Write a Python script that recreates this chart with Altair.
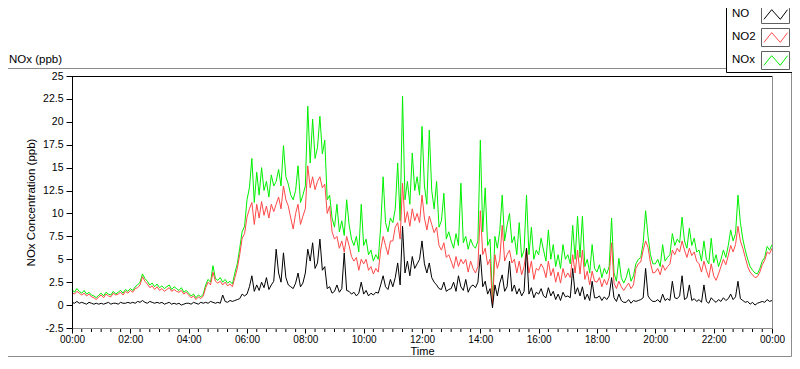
import altair as alt
import pandas as pd

# ---- data (5-minute samples, 00:00 .. 24:00) ----
NOX_VALUES = [
    1.7, 1.4, 1.8, 1.5, 1.3, 1.6, 1.2, 1.4, 1.1, 1.0, 0.8, 1.1,
    1.3, 1.0, 1.4, 1.2, 1.1, 1.5, 1.2, 1.4, 1.6, 1.3, 1.7, 1.5,
    1.8, 1.6, 2.0, 2.2, 2.5, 3.4, 2.9, 2.6, 2.2, 2.4, 2.0, 2.3,
    1.9, 2.1, 1.8, 2.0, 2.2, 1.7, 2.0, 1.8, 1.6, 1.9, 1.4, 1.6,
    1.3, 1.0, 1.2, 0.8, 1.1, 0.9, 1.2, 2.2, 2.8, 2.5, 4.3, 2.9,
    2.7, 3.0, 2.5, 2.8, 2.4, 2.6, 2.3, 3.5, 4.5, 6.2, 8.0, 8.6,
    11.5, 12.8, 16.0, 11.2, 14.5, 12.0, 15.0, 12.5, 13.5, 11.8, 14.2, 13.0,
    13.5, 14.8, 13.0, 17.4, 14.0, 13.2, 12.0, 11.5, 12.5, 15.2, 11.2, 12.0,
    13.0, 21.7, 15.5, 20.3, 16.0, 17.2, 20.6, 16.5, 18.0, 11.5, 12.0, 9.5,
    8.5, 11.0, 8.0, 9.2, 7.6, 11.5, 8.8, 7.2, 6.5, 7.5, 5.8, 11.0,
    6.5, 7.2, 5.5, 6.0, 4.8, 5.5, 5.0, 8.5, 14.0, 9.0, 8.0, 9.5,
    9.0, 10.5, 15.5, 9.2, 22.8, 11.5, 13.5, 11.0, 16.6, 12.5, 14.0, 12.0,
    19.5, 13.0, 11.0, 19.1, 12.5, 10.5, 13.5, 8.5, 9.2, 12.2, 7.2, 8.0,
    7.0, 6.2, 7.8, 6.5, 13.3, 6.8, 7.5, 6.1, 7.2, 6.5, 6.2, 7.0,
    18.0, 8.0, 12.8, 6.5, 7.2, 0.3, 7.5, 6.2, 8.1, 12.0, 7.0, 8.7,
    10.0, 6.8, 7.5, 5.5, 9.0, 5.2, 6.0, 12.0, 5.5, 8.5, 5.0, 6.0,
    5.5, 7.3, 6.0, 4.8, 8.2, 5.0, 6.6, 4.2, 5.5, 4.0, 6.6, 5.0,
    5.5, 4.5, 8.7, 5.0, 9.7, 5.2, 9.7, 4.2, 5.0, 3.5, 6.6, 4.0,
    3.6, 4.4, 3.0, 4.0, 3.4, 4.2, 9.5, 3.5, 2.6, 5.1, 3.0, 2.4,
    3.0, 4.0, 2.6, 3.2, 4.5, 5.0, 5.2, 6.8, 10.3, 7.5, 5.5, 4.5,
    4.5, 5.0, 4.2, 6.6, 4.8, 5.2, 5.5, 7.8, 6.5, 7.2, 6.8, 9.6,
    7.0, 6.2, 8.4, 6.5, 7.3, 5.8, 6.0, 4.8, 7.0, 5.0, 4.5, 7.3,
    4.6, 5.5, 4.2, 5.0, 6.0, 5.2, 6.5, 8.2, 7.0, 7.8, 12.0, 9.0,
    7.2, 6.0, 5.0, 4.2, 3.8, 3.5, 3.4, 4.0, 4.8, 5.2, 6.4, 6.0,
    6.6,
]

NO2_VALUES = [
    1.4, 1.2, 1.5, 1.3, 1.1, 1.3, 1.0, 1.2, 0.9, 0.8, 0.6, 0.9,
    1.1, 0.8, 1.2, 1.0, 0.9, 1.3, 1.1, 1.2, 1.4, 1.1, 1.5, 1.3,
    1.6, 1.4, 1.8, 1.9, 2.2, 3.1, 2.6, 2.3, 1.9, 2.1, 1.7, 2.0,
    1.6, 1.8, 1.5, 1.7, 1.9, 1.5, 1.7, 1.5, 1.4, 1.6, 1.2, 1.4,
    1.1, 0.8, 1.0, 0.6, 0.9, 0.7, 1.0, 1.9, 2.5, 2.2, 3.6, 2.6,
    2.4, 2.6, 2.2, 2.5, 2.1, 2.3, 2.0, 3.0, 4.0, 5.5, 7.3, 7.8,
    9.6, 10.5, 11.2, 8.8, 11.0, 9.5, 11.3, 9.8, 10.8, 9.5, 11.0, 10.2,
    11.0, 11.8, 10.5, 13.0, 11.5, 10.8, 9.5, 8.3, 10.0, 11.0, 8.8, 9.7,
    10.5, 15.2, 12.8, 14.0, 12.6, 13.5, 14.0, 12.8, 13.2, 10.0, 10.8, 8.0,
    7.2, 7.5, 6.2, 7.0, 5.8, 7.5, 6.5, 5.3, 4.8, 5.2, 3.8, 5.0,
    4.5, 5.0, 3.8, 4.2, 3.4, 4.0, 3.6, 6.0, 7.5, 6.5, 5.5, 7.0,
    7.0, 8.5, 9.0, 7.2, 13.3, 9.0, 10.2, 8.6, 10.5, 9.2, 10.0, 9.0,
    12.0, 9.5, 8.2, 9.7, 8.8, 7.9, 8.5, 6.5, 6.0, 6.8, 5.2, 5.5,
    4.8, 4.0, 5.3, 4.2, 5.0, 4.5, 5.0, 3.6, 4.8, 4.0, 3.5, 4.2,
    10.3, 5.5, 6.2, 4.4, 5.0, 0.0, 5.5, 4.0, 5.0, 8.7, 4.8, 5.5,
    6.0, 4.6, 5.0, 3.5, 4.8, 3.3, 4.2, 6.2, 3.5, 4.8, 2.8, 4.0,
    3.8, 4.5, 4.0, 3.0, 4.8, 3.2, 4.0, 2.5, 3.6, 2.4, 4.0, 3.0,
    3.5, 3.0, 5.5, 3.5, 6.0, 3.4, 6.0, 2.8, 3.7, 2.2, 3.7, 2.6,
    2.5, 3.0, 2.0, 2.8, 2.2, 3.0, 6.8, 2.4, 1.8, 2.6, 2.0, 1.6,
    2.0, 2.4, 1.8, 2.2, 4.0, 4.5, 4.7, 6.0, 7.0, 6.3, 4.6, 3.5,
    3.6, 4.0, 3.3, 4.4, 3.8, 4.2, 4.5, 6.0, 5.5, 6.2, 5.8, 7.0,
    6.0, 5.2, 6.2, 5.4, 5.8, 4.8, 4.5, 3.6, 4.8, 3.8, 3.0, 4.5,
    3.2, 2.7, 3.4, 4.2, 5.0, 4.4, 5.4, 6.5, 5.8, 6.6, 8.6, 7.0,
    6.2, 5.2, 4.2, 3.6, 3.3, 3.0, 3.1, 3.6, 4.4, 4.9, 5.8, 5.6,
    6.2,
]

NO_VALUES = [
    0.3, 0.2, 0.4, 0.2, 0.3, 0.2, 0.1, 0.3, 0.2, 0.1, 0.2, 0.1,
    0.2, 0.1, 0.2, 0.3, 0.1, 0.2, 0.2, 0.1, 0.3, 0.2, 0.2, 0.3,
    0.2, 0.3, 0.2, 0.4, 0.3, 0.5, 0.3, 0.2, 0.4, 0.3, 0.2, 0.3,
    0.2, 0.3, 0.1, 0.2, 0.3, 0.1, 0.2, 0.1, 0.2, 0.0, 0.1, 0.2,
    0.2, 0.1, 0.3, 0.2, 0.1, 0.3, 0.2, 0.3, 0.2, 0.4, 0.3, 0.2,
    0.3, 0.2, 1.1, 0.4, 0.3, 0.5, 0.4, 0.5, 0.6, 0.7, 1.2, 1.0,
    1.2, 2.0, 3.2, 1.5, 2.2, 1.6, 2.5, 1.9, 3.0, 1.7, 2.2, 2.6,
    6.1, 3.5, 2.5, 5.7, 3.0, 2.2, 2.0, 1.8, 2.4, 3.5, 2.0, 2.4,
    3.5, 6.1, 4.8, 6.8, 4.0, 4.6, 7.2, 3.8, 4.2, 1.8, 2.0, 1.3,
    1.5, 2.2, 1.4, 1.8, 5.7, 1.6, 1.5, 1.2, 1.4, 1.0, 1.3, 2.5,
    1.2, 1.6, 1.0, 1.3, 1.1, 1.4, 1.3, 2.2, 3.2, 2.0, 1.7, 2.8,
    2.0, 3.0, 4.6, 2.2, 8.6, 3.5, 4.8, 3.2, 5.3, 4.0, 4.5, 5.0,
    7.0, 4.5, 3.5, 4.6, 3.0, 2.5, 2.2, 1.8, 1.7, 2.5, 1.5, 1.7,
    1.8, 2.5, 1.5, 3.2, 2.0, 1.6, 2.8, 1.4, 2.0, 2.2, 1.9, 2.5,
    5.5, 2.0, 2.6, 1.2, 1.8, -0.3, 2.2, 1.0, 2.4, 3.3, 1.5, 2.0,
    4.8, 1.5, 2.2, 1.2, 1.8, 1.0, 1.5, 6.2, 1.2, 1.9, 0.8, 1.4,
    1.2, 1.8, 1.0, 0.8, 1.9, 1.0, 1.5, 0.6, 1.2, 0.5, 1.4, 0.9,
    1.0, 0.8, 4.0, 1.2, 1.9, 1.0, 2.0, 0.6, 1.2, 0.5, 2.6, 0.8,
    0.8, 1.0, 0.5, 0.9, 0.6, 1.0, 3.0, 0.8, 0.4, 1.2, 0.5, 0.3,
    0.3, 0.6, 0.2, 0.5, 0.4, 0.5, 0.6, 0.8, 4.0, 1.0, 0.6, 0.4,
    0.4, 0.6, 0.3, 1.2, 0.5, 0.7, 0.5, 2.6, 0.8, 0.7, 1.0, 3.2,
    0.6, 0.8, 2.2, 0.5, 0.7, 0.4, 0.6, 0.3, 2.2, 0.4, 0.2, 0.8,
    0.5, 0.3, 0.6, 0.4, 0.8, 0.5, 0.7, 1.2, 0.6, 0.9, 2.6, 0.7,
    0.5, 0.3, 0.4, 0.1, 0.3, 0.0, 0.2, 0.3, 0.4, 0.3, 0.6, 0.4,
    0.5,
]

STEP_MINUTES = 5
TIME_HOURS = [i * STEP_MINUTES / 60 for i in range(len(NO_VALUES))]

SERIES = ["NO", "NO2", "NOx"]
COLORS = {"NO": "#000000", "NO2": "#ff4848", "NOx": "#00f000"}
X_TICKS = [0, 2, 4, 6, 8, 10, 12, 14, 16, 18, 20, 22, 24]
X_LABELS = ["00:00", "02:00", "04:00", "06:00", "08:00", "10:00", "12:00",
            "14:00", "16:00", "18:00", "20:00", "22:00", "00:00"]
Y_TICKS = [-2.5, 0, 2.5, 5, 7.5, 10, 12.5, 15, 17.5, 20, 22.5, 25]
MINOR_TICKS = [k / 3 for k in range(73) if k % 6 != 0]

TITLE = "NOx (ppb)"
Y_TITLE = "NOx Concentration (ppb)"
X_TITLE = "Time"

FONT = "Liberation Sans"
W, H = 700, 252

df = pd.DataFrame({"t": TIME_HOURS, "NO": NO_VALUES, "NO2": NO2_VALUES, "NOx": NOX_VALUES})
one = pd.DataFrame({"a": [0]})
minor_df = pd.DataFrame({"t": MINOR_TICKS})

label_map = "{" + ", ".join(f"'{v}': '{s}'" for v, s in zip(X_TICKS, X_LABELS)) + "}"

x_scale = alt.Scale(domain=[0, 24], nice=False, zero=False)
y_scale = alt.Scale(domain=[-2.5, 25], nice=False, zero=False)

x_axis = alt.Axis(
    values=X_TICKS, title=X_TITLE, grid=False, zindex=1,
    labelExpr=label_map + "[datum.label]",
    tickSize=5, tickColor="#000000", domainColor="#8c8c8c",
    labelFont=FONT, labelFontSize=10, labelColor="#000000", labelPadding=1,
    labelFlush=False, labelOverlap=False,
    titleFont=FONT, titleFontSize=11, titleFontWeight="normal", titleColor="#000000",
    titleY=17, titleBaseline="top",
)
y_axis = alt.Axis(
    values=Y_TICKS, title=Y_TITLE, grid=False, zindex=1,
    labelExpr="'' + datum.value",
    tickSize=6, tickColor="#000000", domainColor="#000000",
    labelFont=FONT, labelFontSize=10.5, labelColor="#000000", labelPadding=3,
    labelFlush=False, labelOverlap=False,
    titleFont=FONT, titleFontSize=11.5, titleFontWeight="normal", titleColor="#000000",
    titleX=-41, titleY=H / 2, titleAngle=270, titleAlign="center", titleBaseline="middle",
)

layers = []

# outer gray frame of the panel
layers.append(
    alt.Chart(one).mark_rect(fillOpacity=0, stroke="#8c8c8c", strokeWidth=1).encode(
        x=alt.value(-72), x2=alt.value(719.5), y=alt.value(-7.5), y2=alt.value(280.5)
    )
)

# series lines: NOx below, NO2 over it, NO on top
for col in ["NOx", "NO2", "NO"]:
    layers.append(
        alt.Chart(df).mark_line(color=COLORS[col], strokeWidth=1, interpolate="linear").encode(
            x=alt.X("t:Q", scale=x_scale, axis=x_axis),
            y=alt.Y(f"{col}:Q", scale=y_scale, axis=y_axis),
        )
    )

# plot frame: black top, gray right
layers.append(
    alt.Chart(one).mark_rule(color="#000000", strokeWidth=1).encode(
        x=alt.value(0), x2=alt.value(W), y=alt.value(0.5)
    )
)
layers.append(
    alt.Chart(one).mark_rule(color="#8c8c8c", strokeWidth=1).encode(
        x=alt.value(W + 0.5), y=alt.value(0), y2=alt.value(H)
    )
)

# minor ticks on time axis (every 20 minutes)
layers.append(
    alt.Chart(minor_df).mark_rule(color="#000000", strokeWidth=1).encode(
        x=alt.X("t:Q", scale=x_scale, axis=x_axis),
        y=alt.value(H + 1), y2=alt.value(H + 4),
    )
)

# legend box (top right)
layers.append(
    alt.Chart(one).mark_rect(fill="#ffffff", stroke="#000000", strokeWidth=1).encode(
        x=alt.value(654.5), x2=alt.value(740), y=alt.value(-90), y2=alt.value(-3.5)
    )
)
ZIGZAG = "M-0.96,0.4L-0.32,-0.4L0.4,0.4L1,-0.4"
for i, name in enumerate(SERIES):
    top = -71 + 23 * i
    layers.append(
        alt.Chart(one).mark_rect(fill="#ffffff", stroke="#606060", strokeWidth=1).encode(
            x=alt.value(689.5), x2=alt.value(717.5), y=alt.value(top + 0.5), y2=alt.value(top + 18.5)
        )
    )
    layers.append(
        alt.Chart(one).mark_point(
            shape=ZIGZAG, size=576, filled=False, stroke=COLORS[name], strokeWidth=1, opacity=1
        ).encode(x=alt.value(703.5), y=alt.value(top + 9.5))
    )
    layers.append(
        alt.Chart(one).mark_text(
            text=name, align="left", baseline="middle", font=FONT, fontSize=11.5, color="#000000"
        ).encode(x=alt.value(660), y=alt.value(top + 9))
    )

# chart title at top left
layers.append(
    alt.Chart(one).mark_text(
        text=TITLE, align="left", baseline="middle", font=FONT, fontSize=11.5, color="#000000"
    ).encode(x=alt.value(-63), y=alt.value(-16))
)

chart = alt.layer(*layers).properties(
    width=W,
    height=H,
    padding={"left": 64, "top": 68, "right": 20, "bottom": 29},
    autosize=alt.AutoSizeParams(type="none"),
    background="#ffffff",
).configure_view(stroke=None)

chart.save("out.html", embed_options={"renderer": "svg", "actions": False})
